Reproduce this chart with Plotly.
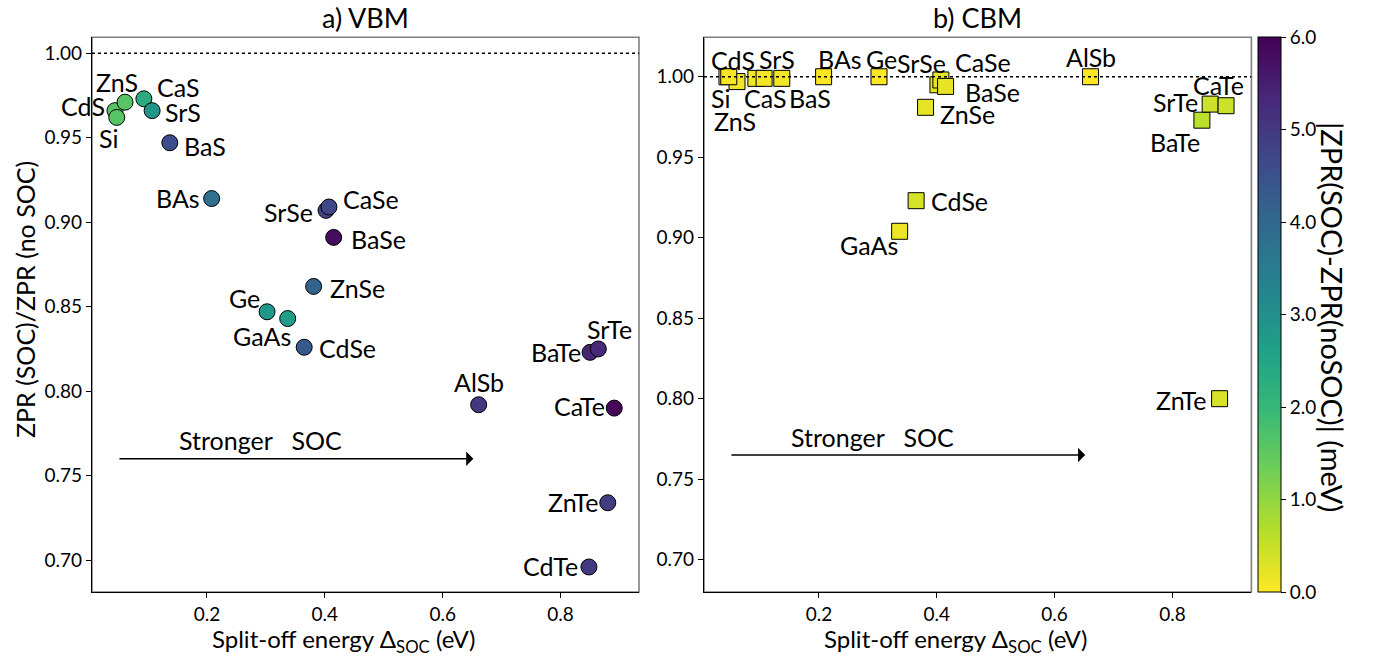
import plotly.graph_objects as go

# ---------------- data ----------------
materials = ["CdS", "ZnS", "Si", "CaS", "SrS", "BaS", "BAs", "SrSe", "CaSe", "BaSe",
             "ZnSe", "Ge", "GaAs", "CdSe", "BaTe", "SrTe", "AlSb", "CaTe", "ZnTe", "CdTe"]

# split-off energy (eV)
delta_soc = [0.044, 0.061, 0.047, 0.093, 0.107, 0.137, 0.208, 0.402, 0.407, 0.415,
             0.381, 0.302, 0.337, 0.365, 0.850, 0.864, 0.661, 0.891, 0.880, 0.848]

# valence band maximum: ZPR(SOC)/ZPR(no SOC) and |dZPR| (meV)
vbm_ratio = [0.966, 0.971, 0.962, 0.973, 0.966, 0.947, 0.914, 0.907, 0.909, 0.891,
             0.862, 0.847, 0.843, 0.826, 0.823, 0.825, 0.792, 0.790, 0.734, 0.696]
vbm_diff = [1.6, 1.6, 1.6, 2.3, 2.9, 4.6, 3.8, 4.8, 4.7, 5.8,
            4.1, 2.8, 2.7, 4.3, 5.4, 5.3, 5.0, 5.9, 4.9, 5.0]

# conduction band minimum (CdTe not shown)
cbm_materials = ["CdS", "ZnS", "Si", "CaS", "SrS", "BaS", "BAs", "SrSe", "CaSe", "BaSe",
                 "ZnSe", "Ge", "GaAs", "CdSe", "BaTe", "SrTe", "AlSb", "CaTe", "ZnTe"]
cbm_delta = [0.044, 0.061, 0.047, 0.093, 0.107, 0.137, 0.208, 0.402, 0.407, 0.415,
             0.381, 0.302, 0.337, 0.365, 0.850, 0.864, 0.661, 0.891, 0.880]
cbm_ratio = [1.000, 0.997, 1.000, 0.999, 0.999, 0.999, 1.000, 0.995, 0.998, 0.994,
             0.981, 1.000, 0.904, 0.923, 0.973, 0.983, 1.000, 0.982, 0.800]
cbm_diff = [0.05, 0.1, 0.05, 0.1, 0.1, 0.1, 0.0, 0.2, 0.2, 0.2,
            0.2, 0.0, 0.15, 0.38, 0.6, 0.45, 0.0, 0.45, 0.35]

y_ticks = [0.70, 0.75, 0.80, 0.85, 0.90, 0.95, 1.00]
x_ticks = [0.2, 0.4, 0.6, 0.8]
cbar_ticks = [0.0, 1.0, 2.0, 3.0, 4.0, 5.0, 6.0]

# label placement: anchor, x offset (px), y offset (px, up positive)
vbm_labels = {
    "CdS": ("right", -8, 5), "ZnS": ("center", -8, 20), "Si": ("center", -8, -21),
    "CaS": ("left", 11, 12), "SrS": ("left", 11, -1), "BaS": ("left", 12, -3),
    "BAs": ("right", -10, 1), "SrSe": ("right", -11, -2), "CaSe": ("left", 12, 8),
    "BaSe": ("left", 15, -2), "ZnSe": ("left", 14, -2), "Ge": ("right", -5, 14),
    "GaAs": ("right", 5, -17), "CdSe": ("left", 13, -1), "BaTe": ("right", -7, 0),
    "SrTe": ("center", 11, 20), "AlSb": ("center", 0, 23), "CaTe": ("right", -7, 2),
    "ZnTe": ("right", -8, 1), "CdTe": ("right", -9, 1),
}
cbm_labels = {
    "CdS": ("center", 6, 17), "ZnS": ("center", -2, -39), "Si": ("center", -8, -21),
    "CaS": ("center", 9, -20), "SrS": ("center", 13, 19), "BaS": ("left", 5, -20),
    "BAs": ("center", 16, 18), "SrSe": ("right", 10, 22), "CaSe": ("left", 12, 18),
    "BaSe": ("left", 17, -6), "ZnSe": ("left", 12, -7), "Ge": ("center", 2, 18),
    "GaAs": ("right", 0, -14), "CdSe": ("left", 13, 0), "BaTe": ("center", -27, -22),
    "SrTe": ("right", -10, 2), "AlSb": ("center", 0, 20), "CaTe": ("center", -8, 21),
    "ZnTe": ("right", -12, -1),
}

FONT = "Lato"
LABEL_SIZE = 25

fig = go.Figure()

fig.add_trace(go.Scatter(
    x=delta_soc, y=vbm_ratio, mode="markers", xaxis="x", yaxis="y",
    marker=dict(symbol="circle", size=16, color=vbm_diff, coloraxis="coloraxis",
                line=dict(color="black", width=1)),
    text=materials, hoverinfo="text+x+y", showlegend=False,
))
fig.add_trace(go.Scatter(
    x=cbm_delta, y=cbm_ratio, mode="markers", xaxis="x2", yaxis="y2",
    marker=dict(symbol="square", size=16, color=cbm_diff, coloraxis="coloraxis",
                line=dict(color="black", width=1)),
    text=cbm_materials, hoverinfo="text+x+y", showlegend=False,
))

annotations = []
for name, xv, yv in zip(materials, delta_soc, vbm_ratio):
    anc, dx, dy = vbm_labels[name]
    annotations.append(dict(x=xv, y=yv, xref="x", yref="y", text=name, showarrow=False,
                            xanchor=anc, yanchor="middle", xshift=dx, yshift=dy,
                            font=dict(family=FONT, size=LABEL_SIZE, color="black")))
for name, xv, yv in zip(cbm_materials, cbm_delta, cbm_ratio):
    anc, dx, dy = cbm_labels[name]
    annotations.append(dict(x=xv, y=yv, xref="x2", yref="y2", text=name, showarrow=False,
                            xanchor=anc, yanchor="middle", xshift=dx, yshift=dy,
                            font=dict(family=FONT, size=LABEL_SIZE, color="black")))

# "Stronger SOC" arrows
for xr, yr, y_arrow, y_text in (("x", "y", 0.760, 0.771), ("x2", "y2", 0.765, 0.776)):
    annotations.append(dict(x=0.652, y=y_arrow, ax=0.049, ay=y_arrow, xref=xr, yref=yr,
                            axref=xr, ayref=yr, text="", showarrow=True, arrowhead=1,
                            arrowsize=1.6, arrowwidth=1.5, arrowcolor="black"))
    annotations.append(dict(x=0.150, y=y_text, xref=xr, yref=yr,
                            text="Stronger&nbsp;&nbsp;&nbsp;SOC",
                            showarrow=False, xanchor="left", yanchor="middle",
                            font=dict(family=FONT, size=LABEL_SIZE, color="black")))

# panel titles
annotations.append(dict(x=365.5 / 1379, y=1 - 18 / 662, xref="paper", yref="paper",
                        text="a) VBM", showarrow=False, xanchor="center", yanchor="middle",
                        font=dict(family=FONT, size=27, color="black")))
annotations.append(dict(x=977.7 / 1379, y=1 - 18 / 662, xref="paper", yref="paper",
                        text="b) CBM", showarrow=False, xanchor="center", yanchor="middle",
                        font=dict(family=FONT, size=27, color="black")))

# axis titles
xt = "Split-off energy Δ<sub>SOC</sub> (eV)"
annotations.append(dict(x=343 / 1379, y=1 - 640 / 662, xref="paper", yref="paper", text=xt,
                        showarrow=False, xanchor="center", yanchor="middle",
                        font=dict(family=FONT, size=24, color="black")))
annotations.append(dict(x=955 / 1379, y=1 - 640 / 662, xref="paper", yref="paper", text=xt,
                        showarrow=False, xanchor="center", yanchor="middle",
                        font=dict(family=FONT, size=24, color="black")))
annotations.append(dict(x=25 / 1379, y=1 - 300 / 662, xref="paper", yref="paper",
                        text="ZPR (SOC)/ZPR (no SOC)", textangle=-90,
                        showarrow=False, xanchor="center", yanchor="middle",
                        font=dict(family=FONT, size=25, color="black")))
annotations.append(dict(x=1333 / 1379, y=1 - 317 / 662, xref="paper", yref="paper",
                        text="|ZPR(SOC)-ZPR(noSOC)| (meV)", textangle=90,
                        showarrow=False, xanchor="center", yanchor="middle",
                        font=dict(family=FONT, size=29, color="black")))

shapes = []
for xr, yr in (("x", "y"), ("x2", "y2")):
    # reference line at ratio 1
    shapes.append(dict(type="line", xref=f"{xr} domain", yref=yr, x0=0, x1=1, y0=1.0, y1=1.0,
                       line=dict(color="black", width=1.5, dash="dot")))
    # grey frame
    shapes.append(dict(type="rect", xref=f"{xr} domain", yref=f"{yr} domain",
                       x0=0, x1=1, y0=0, y1=1, layer="below",
                       line=dict(color="#7f7f7f", width=1.6)))

axis_common = dict(showgrid=False, zeroline=False, showline=True, linecolor="black",
                   linewidth=1.2, ticks="outside", ticklen=5, tickwidth=1, tickcolor="black",
                   tickfont=dict(family=FONT, size=19, color="black"), mirror=False)

ydom = [1 - 592 / 662, 1 - 37.3 / 662]
fig.update_layout(
    width=1379, height=662,
    margin=dict(l=0, r=0, t=0, b=0),
    paper_bgcolor="white", plot_bgcolor="white",
    xaxis=dict(domain=[92 / 1379, 639 / 1379], range=[0.005, 0.933], tickvals=x_ticks,
               ticktext=[f"{v:.1f}" for v in x_ticks], anchor="y", **axis_common),
    yaxis=dict(domain=ydom, range=[0.6812, 1.0094], tickvals=y_ticks,
               ticktext=[f"{v:.2f}" for v in y_ticks], anchor="x", **axis_common),
    xaxis2=dict(domain=[704 / 1379, 1251.4 / 1379], range=[0.005, 0.934], tickvals=x_ticks,
                ticktext=[f"{v:.1f}" for v in x_ticks], anchor="y2", **axis_common),
    yaxis2=dict(domain=ydom, range=[0.6799, 1.0245], tickvals=y_ticks,
                ticktext=[f"{v:.2f}" for v in y_ticks], anchor="x2", **axis_common),
    coloraxis=dict(
        colorscale="Viridis", reversescale=True, cmin=0, cmax=6,
        colorbar=dict(
            x=1258 / 1379, xanchor="left", y=1 - 314.5 / 662, yanchor="middle",
            len=555 / 662, lenmode="fraction", thickness=23, thicknessmode="pixels",
            outlinewidth=1, outlinecolor="black",
            tickvals=cbar_ticks, ticktext=[f"{v:.1f}" for v in cbar_ticks],
            ticks="outside", ticklen=5, tickcolor="black",
            tickfont=dict(family=FONT, size=19, color="black"),
            xpad=0, ypad=0,
        ),
    ),
    annotations=annotations,
    shapes=shapes,
)

fig.write_html("out.html")
